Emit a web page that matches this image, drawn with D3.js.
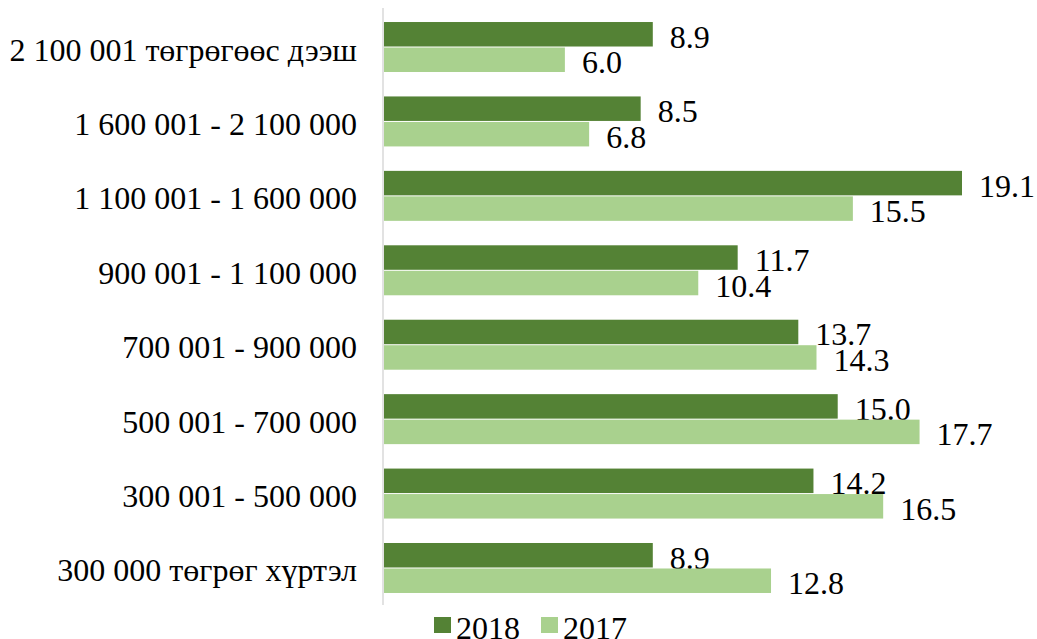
<!DOCTYPE html>
<html><head><meta charset="utf-8">
<script src="https://cdn.jsdelivr.net/npm/d3@7"></script>
<style>body{margin:0;background:#fff}svg{display:block}</style>
</head><body>
<svg id="c" width="1037" height="639"></svg>
<script>
const categories = ["2 100 001 төгрөгөөс дээш","1 600 001 - 2 100 000","1 100 001 - 1 600 000","900 001 - 1 100 000","700 001 - 900 000","500 001 - 700 000","300 001 - 500 000","300 000 төгрөг хүртэл"];
const seriesNames = ["2018","2017"];
const values2018 = [8.9,8.5,19.1,11.7,13.7,15.0,14.2,8.9];
const values2017 = [6.0,6.8,15.5,10.4,14.3,17.7,16.5,12.8];
const colors = ["#548235","#a9d18e"];

const svg = d3.select("#c");
const FONT = "'Liberation Serif'";
const FS = 32;
const x = d3.scaleLinear().domain([0,20]).range([383, 383+579/19.1*20]);
const y = d3.scaleBand().domain(categories).range([10.3,605.7]).paddingInner(0.315).paddingOuter(0.1575);
const yi = d3.scaleBand().domain(seriesNames).range([0,y.bandwidth()]);
const seriesVals = [values2018, values2017];

svg.append("line").attr("x1",383).attr("x2",383).attr("y1",8).attr("y2",605)
  .attr("stroke","#d9d9d9").attr("stroke-width",1.5);

seriesNames.forEach((s,si)=>{
  const g = svg.append("g");
  g.selectAll("rect").data(categories).join("rect")
    .attr("x",x(0)+1).attr("y",c=>y(c)+yi(s))
    .attr("width",(c,i)=>x(seriesVals[si][i])-x(0)-1)
    .attr("height",yi.bandwidth()-1)
    .attr("fill",colors[si]);
  g.selectAll("text").data(categories).join("text")
    .attr("x",(c,i)=>x(seriesVals[si][i])+17)
    .attr("y",c=>y(c)+yi(s)+yi.bandwidth()/2+2)
    .attr("dominant-baseline","central")
    .style("font-family",FONT).attr("font-size",FS).attr("fill","#000")
    .text((c,i)=>seriesVals[si][i].toFixed(1));
});

svg.append("g").selectAll("text").data(categories).join("text")
  .attr("x",357).attr("y",c=>y(c)+y.bandwidth()/2+2)
  .attr("text-anchor","end").attr("dominant-baseline","central")
  .style("font-family",FONT).attr("font-size",FS).attr("fill","#000").text(c=>c);

const leg = svg.append("g");
const legX = [434,541];
seriesNames.forEach((s,i)=>{
  leg.append("rect").attr("x",legX[i]).attr("y",617).attr("width",17).attr("height",16).attr("fill",colors[i]);
  leg.append("text").attr("x",legX[i]+22).attr("y",628).attr("dominant-baseline","central")
    .style("font-family",FONT).attr("font-size",FS).attr("fill","#000").text(s);
});
</script>
</body></html>
